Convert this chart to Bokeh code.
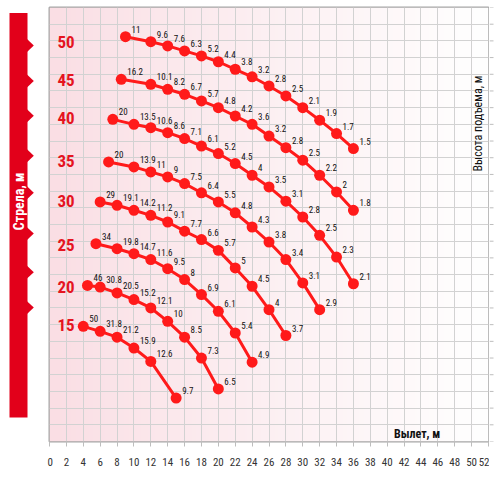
import numpy as np
from math import pi
from bokeh.plotting import figure
from bokeh.layouts import row
from bokeh.models import Range1d, SingleIntervalTicker, ColumnDataSource
from bokeh.core.properties import value
from bokeh.embed import file_html
from bokeh.resources import INLINE

# ---- data: boom length -> (radius m, lift height m, load t) ----
boom_lengths = [50, 45, 40, 35, 30, 25, 20, 15]

radius_50 = [9, 12, 14, 16, 18, 20, 22, 24, 26, 28, 30, 32, 34, 36]
height_50 = [48.5, 47.9, 47.4, 46.8, 46.2, 45.5, 44.6, 43.7, 42.6, 41.4, 40.0, 38.5, 36.9, 35.1]
load_50 = [11, 9.6, 7.6, 6.3, 5.2, 4.4, 3.8, 3.2, 2.8, 2.5, 2.1, 1.9, 1.7, 1.5]

radius_45 = [8.5, 12, 14, 16, 18, 20, 22, 24, 26, 28, 30, 32, 34, 36]
height_45 = [43.4, 42.8, 42.2, 41.6, 40.8, 40.0, 39.0, 38.0, 36.6, 35.2, 33.7, 31.9, 29.9, 27.7]
load_45 = [16.2, 10.1, 8.2, 6.7, 5.7, 4.8, 4.2, 3.6, 3.2, 2.8, 2.5, 2.2, 2, 1.8]

radius_40 = [7.5, 10, 12, 14, 16, 18, 20, 22, 24, 26, 28, 30, 32, 34, 36]
height_40 = [38.6, 38.0, 37.6, 37.0, 36.3, 35.4, 34.5, 33.3, 31.9, 30.5, 28.8, 26.9, 24.7, 22.1, 18.9]
load_40 = [20, 13.5, 10.6, 8.6, 7.1, 6.1, 5.2, 4.5, 4, 3.5, 3.1, 2.8, 2.5, 2.3, 2.1]

radius_35 = [7, 10, 12, 14, 16, 18, 20, 22, 24, 26, 28, 30, 32]
height_35 = [33.5, 32.9, 32.3, 31.7, 30.9, 29.8, 28.7, 27.4, 25.7, 23.9, 21.8, 19.0, 15.8]
load_35 = [20, 13.9, 11, 9, 7.5, 6.4, 5.5, 4.8, 4.3, 3.8, 3.4, 3.1, 2.9]

radius_30 = [6, 8, 10, 12, 14, 16, 18, 20, 22, 24, 26, 28]
height_30 = [28.7, 28.3, 27.7, 27.1, 26.3, 25.2, 24.2, 22.9, 20.8, 18.6, 15.8, 12.7]
load_30 = [29, 19.1, 14.2, 11.2, 9.1, 7.7, 6.6, 5.7, 5, 4.5, 4, 3.7]

radius_25 = [5.5, 8, 10, 12, 14, 16, 18, 20, 22, 24]
height_25 = [23.7, 23.1, 22.5, 21.8, 20.7, 19.4, 17.6, 15.6, 13.0, 9.5]
load_25 = [34, 19.8, 14.7, 11.6, 9.5, 8, 6.9, 6.1, 5.4, 4.9]

radius_20 = [4.5, 6, 8, 10, 12, 14, 16, 18, 20]
height_20 = [18.7, 18.5, 17.8, 17.0, 16.0, 14.4, 12.5, 10.0, 6.3]
load_20 = [46, 30.8, 20.5, 15.2, 12.1, 10, 8.5, 7.3, 6.5]

radius_15 = [4, 6, 8, 10, 12, 15]
height_15 = [13.8, 13.2, 12.5, 11.2, 9.6, 5.2]
load_15 = [50, 31.8, 21.2, 15.9, 12.6, 9.7]

# height where each boom-length tag sits on the left
boom_tag_height = [47.9, 43.3, 38.8, 33.6, 28.8, 23.5, 18.5, 13.9]

curves = {
    50: (radius_50, height_50, load_50),
    45: (radius_45, height_45, load_45),
    40: (radius_40, height_40, load_40),
    35: (radius_35, height_35, load_35),
    30: (radius_30, height_30, load_30),
    25: (radius_25, height_25, load_25),
    20: (radius_20, height_20, load_20),
    15: (radius_15, height_15, load_15),
}

NARROW = "'Liberation Sans Narrow', 'Arial Narrow', 'Roboto Condensed', sans-serif"
RED_LINE = "#ff1a1a"
RED_BAND = "#e2001a"
RED_TAG = "#e5141f"

X_MAX = 52
Y_MAX = 52
PLOT_H = 470
TOP = 7
FRAME_H = 434
BOTTOM = PLOT_H - TOP - FRAME_H
PPU = FRAME_H / Y_MAX

y_range = Range1d(0, Y_MAX)

# ---- main chart ----
p = figure(width=442, height=PLOT_H, output_backend="svg", toolbar_location=None,
           x_range=Range1d(0, X_MAX), y_range=y_range, y_axis_location=None,
           min_border_left=2, min_border_right=1, min_border_top=TOP,
           min_border_bottom=BOTTOM)
p.background_fill_color = "white"
p.border_fill_color = "white"
p.outline_line_color = "#a6a6a6"
p.outline_line_width = 2

# background gradient (pink on the left fading to white)
N = 256
img = np.empty((2, N), dtype=np.uint32)
view = img.view(dtype=np.uint8).reshape((2, N, 4))
t = np.linspace(0, 1, N) ** 0.9
left = np.array([250, 222, 228])
right = np.array([255, 255, 255])
for k in range(3):
    view[:, :, k] = (left[k] * (1 - t) + right[k] * t).astype(np.uint8)
view[:, :, 3] = 255
p.image_rgba(image=[img], x=0, y=0, dw=X_MAX, dh=Y_MAX, level="image")

for ax in p.xaxis:
    ax.ticker = SingleIntervalTicker(interval=2)
    ax.axis_line_color = None
    ax.major_tick_line_color = "#bdbdbd"
    ax.major_tick_out = 5
    ax.major_tick_in = 0
    ax.minor_tick_line_color = None
    ax.major_label_text_font = NARROW
    ax.major_label_text_font_size = "11px"
    ax.major_label_text_color = "#333333"
    ax.major_label_standoff = 11

p.xgrid.grid_line_color = "#d2d2d2"
p.xgrid.grid_line_width = 1
p.ygrid.ticker = SingleIntervalTicker(interval=2)
p.ygrid.grid_line_color = "#d2d2d2"
p.ygrid.grid_line_width = 1

for boom in boom_lengths:
    r, h, q = curves[boom]
    src = ColumnDataSource(dict(r=r, h=h, lab=[f"{v:g}" for v in q]))
    p.line("r", "h", source=src, line_color=RED_LINE, line_width=3)
    p.scatter("r", "h", source=src, size=11, fill_color=RED_LINE, line_color=None)
    p.text("r", "h", text="lab", source=src, x_offset=6, y_offset=-4,
           text_align="left", text_baseline="bottom",
           text_font=value(NARROW), text_font_size="9px", text_color="#111111")

tag_src = ColumnDataSource(dict(x=[0.95] * len(boom_lengths), y=boom_tag_height,
                                t=[str(b) for b in boom_lengths]))
p.text("x", "y", text="t", source=tag_src, text_align="left", text_baseline="middle",
       text_font=value(NARROW), text_font_size="17px", text_font_style="bold",
       text_color=RED_TAG)

p.text(x=[40.8], y=[0.9], text=["Вылет, м"], text_align="left", text_baseline="middle",
       text_font=value(NARROW), text_font_size="12px", text_font_style="bold",
       text_color="#111111")
p.text(x=[50.8], y=[38.1], text=["Высота подъема, м"], angle=pi / 2,
       text_align="center", text_baseline="middle",
       text_font=value(NARROW), text_font_size="12px", text_color="#111111")

# ---- right-hand tick marks (height axis, no labels) ----
rt = figure(width=8, height=PLOT_H, output_backend="svg", toolbar_location=None,
            x_range=Range1d(0, 8), y_range=y_range,
            min_border_left=0, min_border_right=0, min_border_top=TOP,
            min_border_bottom=BOTTOM)
rt.axis.visible = False
rt.grid.visible = False
rt.outline_line_color = None
rt.background_fill_color = "white"
rt.border_fill_color = "white"
tick_y = list(range(0, Y_MAX + 1, 2))
rt.segment(x0=0, y0=tick_y, x1=4, y1=tick_y, line_color="#bdbdbd", line_width=1)

# ---- left red band ----
band = figure(width=47, height=PLOT_H, output_backend="svg", toolbar_location=None,
              x_range=Range1d(0, 47),
              y_range=Range1d(-BOTTOM / PPU, Y_MAX + TOP / PPU),
              min_border=0)
band.axis.visible = False
band.grid.visible = False
band.outline_line_color = None
band.background_fill_color = "white"
band.border_fill_color = "white"
band.quad(left=9, right=27, bottom=-3 / PPU, top=Y_MAX + 1 / PPU,
          fill_color=RED_BAND, line_color=None)
half = 7 / PPU
band.patches(xs=[[26.5, 33.3, 26.5] for _ in boom_tag_height],
             ys=[[y + half, y, y - half] for y in boom_tag_height],
             fill_color=RED_BAND, line_color=None)
band.text(x=[18], y=[(441 - 210) / PPU], text=["Стрела, м"], angle=pi / 2,
          text_align="center", text_baseline="middle",
          text_font=value(NARROW), text_font_size="14px", text_font_style="bold",
          text_color="white")

layout = row(band, p, rt, spacing=0)
open("out.html", "w").write(file_html(layout, INLINE))
